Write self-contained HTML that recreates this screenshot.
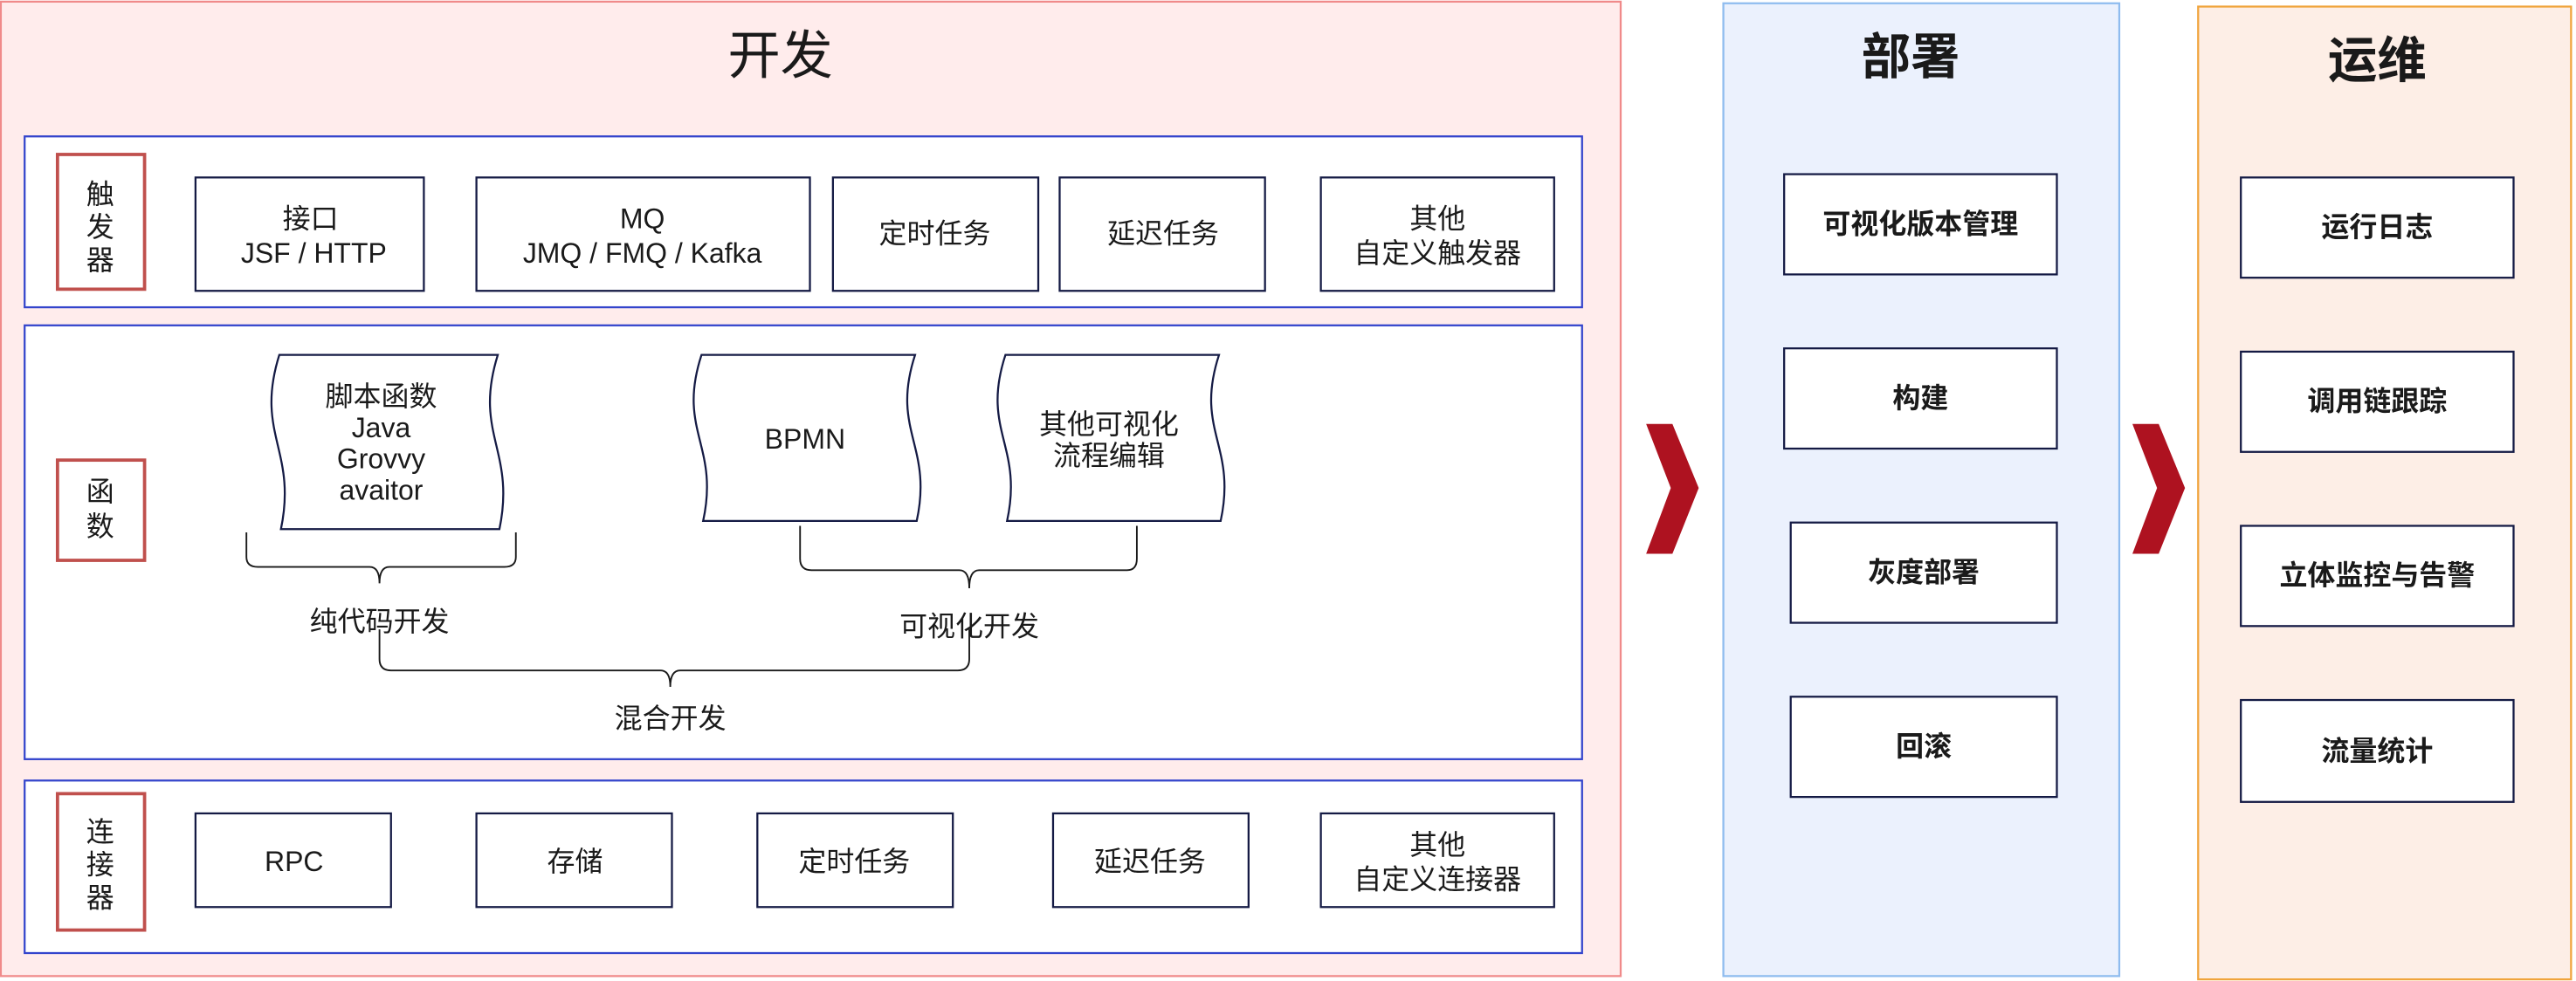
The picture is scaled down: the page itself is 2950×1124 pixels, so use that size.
<!DOCTYPE html>
<html><head><meta charset="utf-8"><style>
html,body{margin:0;padding:0;background:#fff}
svg{display:block}
text{font-family:"Liberation Sans","Noto Sans CJK SC",sans-serif;fill:#1a1a1a;text-anchor:middle}
</style></head><body>
<svg width="2950" height="1124" viewBox="0 0 1568 597" preserveAspectRatio="none" xmlns="http://www.w3.org/2000/svg">
<rect x="0.5" y="1" width="986" height="593" fill="#ffecec" stroke="#f08a8a" stroke-width="1.2"/>
<rect x="1049" y="2" width="241" height="592" fill="#ebf1fd" stroke="#8fbcef" stroke-width="1.2"/>
<rect x="1338" y="4" width="227" height="592" fill="#fdeee6" stroke="#f0a43c" stroke-width="1.2"/>
<text x="475" y="45" font-size="32">开发</text>
<text x="1163" y="45" font-size="30" font-weight="bold">部署</text>
<text x="1447" y="47" font-size="30" font-weight="bold">运维</text>

<g fill="#fff" stroke="#3344cc" stroke-width="1.2">
<rect x="15" y="83" width="948" height="104"/>
<rect x="15" y="198" width="948" height="264"/>
<rect x="15" y="475" width="948" height="105"/>
</g>
<g fill="#fff" stroke="#c0504d" stroke-width="2">
<rect x="35" y="94" width="53" height="82"/>
<rect x="35" y="280" width="53" height="61"/>
<rect x="35" y="483" width="53" height="83"/>
</g>
<g font-size="17">
<text x="61" y="124">触</text><text x="61" y="144">发</text><text x="61" y="164">器</text>
<text x="61" y="305">函</text><text x="61" y="326">数</text>
<text x="61" y="512">连</text><text x="61" y="532">接</text><text x="61" y="552">器</text>
</g>

<g fill="#fff" stroke="#141a44" stroke-width="1.2">
<rect x="119" y="108" width="139" height="69"/>
<rect x="290" y="108" width="203" height="69"/>
<rect x="507" y="108" width="125" height="69"/>
<rect x="645" y="108" width="125" height="69"/>
<rect x="804" y="108" width="142" height="69"/>
<rect x="119" y="495" width="119" height="57"/>
<rect x="290" y="495" width="119" height="57"/>
<rect x="461" y="495" width="119" height="57"/>
<rect x="641" y="495" width="119" height="57"/>
<rect x="804" y="495" width="142" height="57"/>
</g>
<g font-size="17">
<text x="189" y="139">接口</text><text x="191" y="160">JSF /  HTTP</text>
<text x="391" y="139">MQ</text><text x="391" y="160">JMQ / FMQ / Kafka</text>
<text x="569" y="148">定时任务</text>
<text x="708" y="148">延迟任务</text>
<text x="875" y="139">其他</text><text x="875" y="160">自定义触发器</text>
<text x="179" y="530">RPC</text>
<text x="350" y="530">存储</text>
<text x="520" y="530">定时任务</text>
<text x="700" y="530">延迟任务</text>
<text x="875" y="520">其他</text><text x="875" y="541">自定义连接器</text>
</g>

<g fill="#fff" stroke="#141a44" stroke-width="1.2">
<path d="M170,216 L303,216 C288,264 314,274 304,322 L171,322 C181,274 155,264 170,216Z"/>
<path d="M427,216 L557,216 C542,262 568,271 558,317 L428,317 C438,271 412,262 427,216Z"/>
<path d="M612,216 L742,216 C727,262 753,271 743,317 L613,317 C623,271 597,262 612,216Z"/>
</g>
<g font-size="17">
<text x="232" y="247">脚本函数</text>
<text x="232" y="266">Java</text>
<text x="232" y="285">Grovvy</text>
<text x="232" y="304">avaitor</text>
<text x="490" y="273">BPMN</text>
<text x="675" y="264">其他可视化</text>
<text x="675" y="283">流程编辑</text>
</g>
<g fill="none" stroke="#1a1a1a" stroke-width="1">
<path d="M150,324 V339 Q150,345 157,345 H225 Q231,345 231,355 Q231,345 237,345 H307 Q314,345 314,339 V324"/>
<path d="M487,320 V340 Q487,347 494,347 H584 Q590,347 590,358 Q590,347 596,347 H686 Q692,347 692,340 V320"/>
<path d="M231,383 V401 Q231,408 238,408 H402 Q408,408 408,418 Q408,408 414,408 H583 Q590,408 590,401 V383"/>
</g>
<g font-size="17">
<text x="231" y="384">纯代码开发</text>
<text x="590" y="387">可视化开发</text>
<text x="408" y="443">混合开发</text>
</g>

<polygon points="1002,258 1018,258 1034,297 1018,337 1002,337 1017,297" fill="#ae1220"/>
<polygon points="1298,258 1314,258 1330,297 1314,337 1298,337 1313,297" fill="#ae1220"/>

<g fill="#fff" stroke="#141a44" stroke-width="1.2">
<rect x="1086" y="106" width="166" height="61"/>
<rect x="1086" y="212" width="166" height="61"/>
<rect x="1090" y="318" width="162" height="61"/>
<rect x="1090" y="424" width="162" height="61"/>
<rect x="1364" y="108" width="166" height="61"/>
<rect x="1364" y="214" width="166" height="61"/>
<rect x="1364" y="320" width="166" height="61"/>
<rect x="1364" y="426" width="166" height="62"/>
</g>
<g font-size="17" font-weight="bold">
<text x="1169" y="142">可视化版本管理</text>
<text x="1169" y="248">构建</text>
<text x="1171" y="354">灰度部署</text>
<text x="1171" y="460">回滚</text>
<text x="1447" y="144">运行日志</text>
<text x="1447" y="250">调用链跟踪</text>
<text x="1447" y="356">立体监控与告警</text>
<text x="1447" y="463">流量统计</text>
</g>
</svg>
</body></html>
